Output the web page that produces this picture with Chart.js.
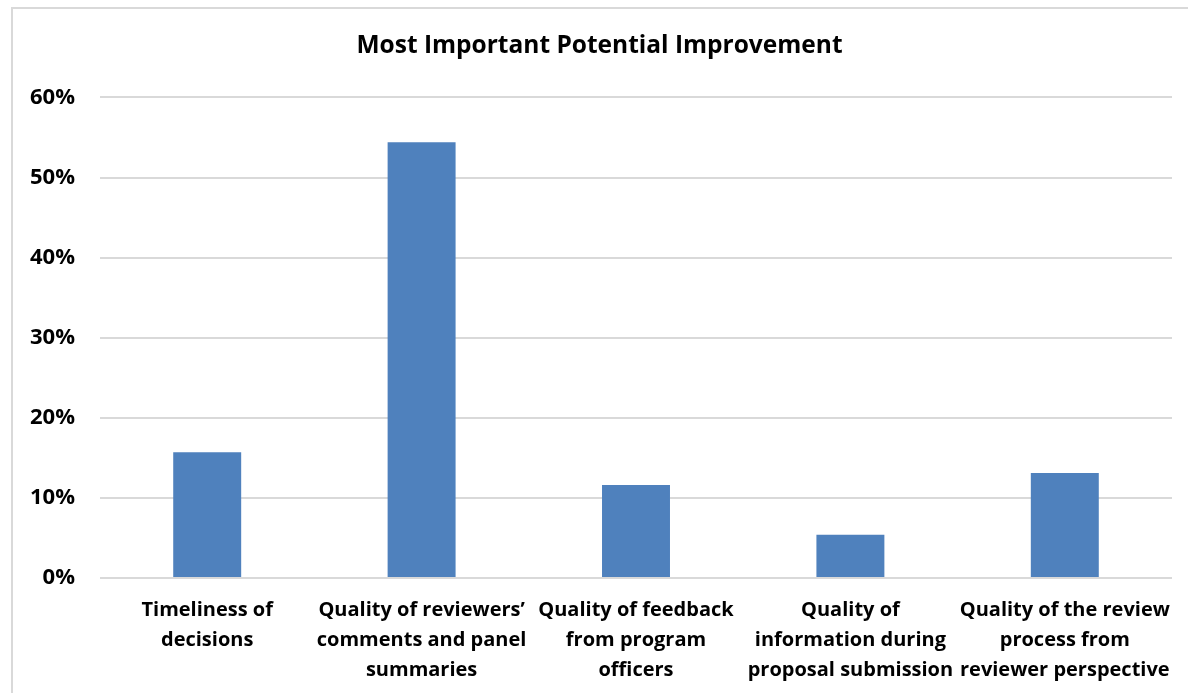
<!DOCTYPE html>
<html>
<head>
<meta charset="utf-8">
<script src="https://cdn.jsdelivr.net/npm/chart.js@4"></script>
<style>
  body { margin: 0; background: #fff; }
  #frame { position: absolute; left: 11px; top: 7px; width: 1200px; height: 700px; border: 2px solid #d9d9d9; box-sizing: border-box; }
  #wrap { position: absolute; left: 0; top: 0; width: 1188px; height: 693px; }
</style>
</head>
<body>
<div id="frame"></div>
<div id="wrap"><canvas id="thechart" width="1188" height="693"></canvas></div>
<script>
// what we have to start with
var chartTitle = 'Most Important Potential Improvement';
var theCategories = [
  ['Timeliness of', 'decisions'],
  ['Quality of reviewers\u2019', 'comments and panel', 'summaries'],
  ['Quality of feedback', 'from program', 'officers'],
  ['Quality of', 'information during', 'proposal submission'],
  ['Quality of the review', 'process from', 'reviewer perspective']
];
var theValues = [15.7, 54.4, 11.6, 5.4, 13.1];
var theTicks = [0, 10, 20, 30, 40, 50, 60];

var fontFam = '"Open Sans", Lato, sans-serif';

var data = {
  labels: theCategories,
  datasets: [
    {
      label: 'Share',
      backgroundColor: '#4f81bd',
      data: theValues,
      categoryPercentage: 1,
      barPercentage: 0.317
    }
  ]
};

function drawChart() {
  var ctx = document.getElementById('thechart').getContext('2d');
  new Chart(ctx, {
    type: 'bar',
    data: data,
    options: {
      responsive: false,
      animation: false,
      // left padding nudges the title toward the frame centre (labels get clipped below ~28)
      layout: { padding: { left: 27, right: 16, top: 0, bottom: 0 } },
      plugins: {
        legend: { display: false },
        tooltip: { enabled: false },
        title: {
          display: true,
          text: chartTitle,
          color: '#000',
          font: { family: fontFam, size: 24.5, weight: 'bold' },
          padding: { top: 31, bottom: 37 }
        }
      },
      scales: {
        x: {
          grid: { display: false },
          border: { display: false },
          ticks: {
            color: '#000',
            font: { family: fontFam, size: 20, weight: 'bold', lineHeight: 1.5 },
            maxRotation: 0,
            minRotation: 0,
            autoSkip: false,
            padding: 9
          },
          afterFit: function (scale) { scale.height = 115; }
        },
        y: {
          min: 0,
          max: 60,
          afterBuildTicks: function (scale) {
            scale.ticks = theTicks.map(function (v) { return { value: v }; });
          },
          grid: { color: '#d9d9d9', lineWidth: 2, drawTicks: false },
          border: { display: false },
          ticks: {
            color: '#000',
            font: { family: fontFam, size: 22, weight: 'bold' },
            padding: 25,
            callback: function (v) { return v + '%'; }
          },
          afterFit: function (scale) { scale.width = 73; }
        }
      }
    }
  });
}

drawChart();
</script>
</body>
</html>
